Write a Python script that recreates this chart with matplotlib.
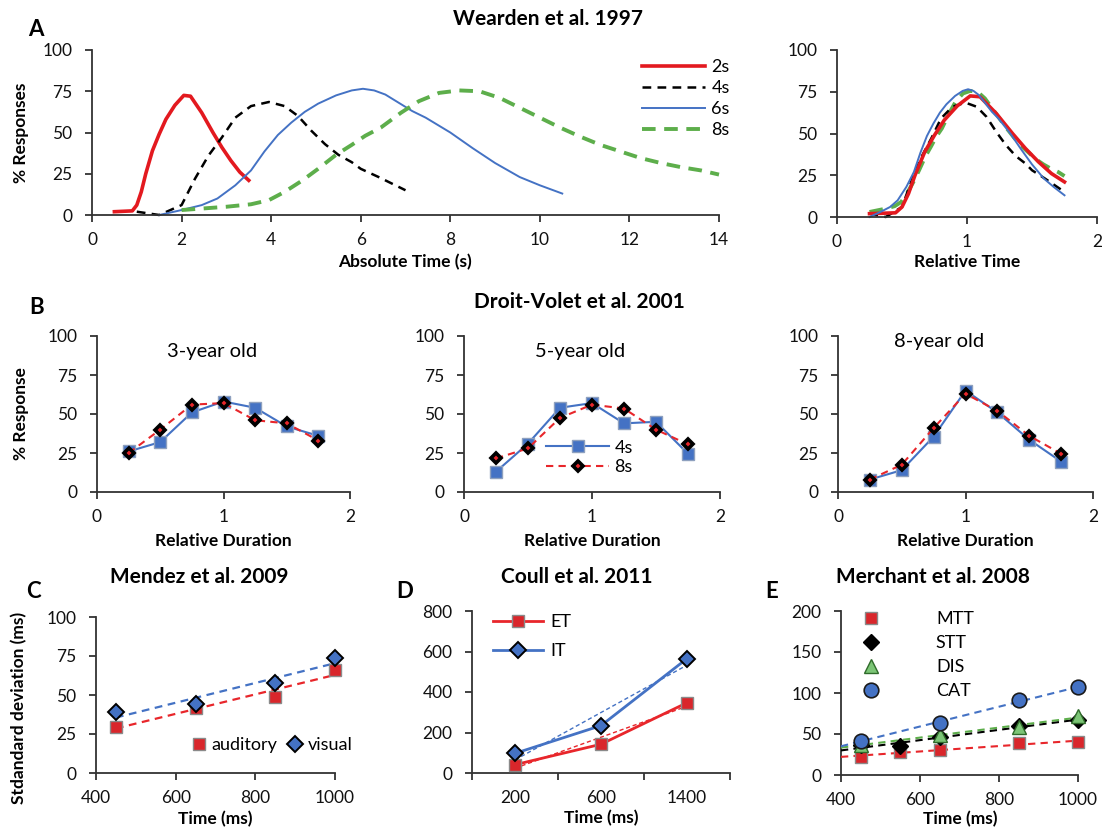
import matplotlib
matplotlib.use('Agg')
import matplotlib.pyplot as plt
import numpy as np

plt.rcParams['font.family'] = ['Lato', 'DejaVu Sans']

# ---------------- data ----------------
# Panel A: Wearden et al. 1997 (absolute time in s, % responses)
durations = [2, 4, 6, 8]
dur_labels = ['2s', '4s', '6s', '8s']
t_2s = [0.5, 0.9, 1.0, 1.1, 1.2, 1.35, 1.5, 1.65, 1.85, 2.05, 2.2, 2.45, 2.7, 2.9, 3.1, 3.3, 3.5]
y_2s = [2, 2.5, 6, 14, 25, 39, 49, 58, 66.5, 72.5, 72, 62, 50, 41, 33, 26, 21]
t_4s = [1.0, 1.5, 2.0, 2.3, 2.6, 2.9, 3.2, 3.55, 3.95, 4.3, 4.6, 4.9, 5.2, 5.5, 5.8, 6.0, 6.4, 7.0]
y_4s = [2, 0, 6, 22, 36, 47, 59, 66, 68.5, 66, 60, 51, 43, 36.5, 32, 28, 23, 15]
t_6s = [1.5, 2.0, 2.45, 2.8, 3.2, 3.55, 3.85, 4.15, 4.45, 4.75, 5.05, 5.45, 5.8, 6.05, 6.3,
        6.55, 6.85, 7.15, 7.45, 8.0, 8.5, 9.0, 9.55, 10.0, 10.5]
y_6s = [0, 3, 6, 10, 18, 27, 38.5, 48.5, 56, 62.5, 67.5, 72.5, 75.5, 76.5, 75.5,
        73, 68, 63, 59, 50, 40.5, 31.5, 23, 18, 13]
t_8s = [2.0, 2.5, 3.0, 3.55, 3.95, 4.3, 4.7, 5.05, 5.45, 5.8, 6.1, 6.45, 6.9, 7.3, 7.75, 8.2,
        8.65, 9.1, 9.55, 10.0, 10.45, 10.9, 11.35, 11.8, 12.25, 12.7, 13.15, 13.6, 14.0]
y_8s = [3, 4, 5, 6.5, 9, 14, 21, 28, 36.5, 42.5, 48, 53, 62, 69, 74, 75.5,
        75, 71, 65, 59, 53, 47.5, 42.5, 38.5, 34.5, 31.5, 29, 27, 24.5]

# Panel B: Droit-Volet et al. 2001
rel_dur = [0.25, 0.5, 0.75, 1.0, 1.25, 1.5, 1.75]
age_labels = ['3-year old', '5-year old', '8-year old']
b_4s = [[26, 32, 51, 58, 54, 42, 36],
        [13, 31, 54, 57, 44, 45, 24.5],
        [8, 14, 35.5, 65, 51, 33.5, 19.5]]
b_8s = [[25, 40, 56, 57, 46, 44, 33],
        [21.5, 28, 47.5, 56, 53.5, 40, 30.5],
        [8, 17.5, 41, 63, 52, 36, 24.5]]

# Panel C: Mendez et al. 2009
c_time = [450, 650, 850, 1000]
c_auditory = [29.5, 41.5, 49, 66]
c_visual = [39, 44, 58, 74]

# Panel D: Coull et al. 2011
d_cats = ['200', '600', '1400']
d_et = [41, 142, 347]
d_it = [97, 234, 565]

# Panel E: Merchant et al. 2008
e_time_mtt = [450, 550, 650, 850, 1000]
e_mtt = [22, 28, 31, 39, 40]
e_time_stt = [450, 550, 650, 850, 1000]
e_stt = [36, 35, 46, 60, 67]
e_time_dis = [450, 650, 850, 1000]
e_dis = [37, 49, 58, 72]
e_time_cat = [450, 650, 850, 1000]
e_cat = [42, 63, 91, 107]

# ---------------- styling ----------------
W, H = 1102, 832
fig = plt.figure(figsize=(W / 100, H / 100), dpi=100)

RED = '#E3191F'
BLUE = '#4472C4'
GREEN = '#5DAE4B'
SPINE = '#333333'
TICK_FS = 12.5
LAB_FS = 12.5


def add_ax(l, t, r, b):
    return fig.add_axes([l / W, 1 - b / H, (r - l) / W, (b - t) / H])


def style(ax):
    for s in ['top', 'right']:
        ax.spines[s].set_visible(False)
    for s in ['left', 'bottom']:
        ax.spines[s].set_color(SPINE)
        ax.spines[s].set_linewidth(1.3)
    ax.tick_params(which='both', direction='out', length=5, width=1.3, color=SPINE,
                   labelsize=TICK_FS, labelcolor='#111111')
    ax.tick_params(axis='x', pad=7)
    ax.tick_params(axis='y', pad=9)
    ax.patch.set_alpha(0)


def ftext(x, y, s, **kw):
    kw.setdefault('ha', 'center')
    kw.setdefault('va', 'center')
    fig.text(x / W, 1 - y / H, s, **kw)


# ---------------- Panel A ----------------
series_t = [t_2s, t_4s, t_6s, t_8s]
series_y = [y_2s, y_4s, y_6s, y_8s]
a_styles = [dict(color=RED, lw=2.6, ls='-'),
            dict(color='black', lw=1.8, ls=(0, (3.5, 2.5))),
            dict(color=BLUE, lw=1.4, ls='-'),
            dict(color=GREEN, lw=2.8, ls=(0, (3.5, 2.2)))]

axA = add_ax(92, 50, 719, 215)
style(axA)
for t, y, lab, st in zip(series_t, series_y, dur_labels, a_styles):
    axA.plot(t, y, label=lab, clip_on=False, **st)
axA.set_xlim(0, 14)
axA.set_ylim(0, 100)
axA.set_xticks(range(0, 15, 2))
axA.set_yticks([0, 25, 50, 75, 100])
axA.legend(loc='upper left', bbox_to_anchor=(0.877, 0.945), frameon=False,
           fontsize=13, handlelength=3.5, handletextpad=0.35, labelspacing=0.28,
           borderpad=0, borderaxespad=0)

axA2 = add_ax(837, 50, 1097, 217)
style(axA2)
draw_order = [3, 1, 0, 2]
for i in draw_order:
    rel = np.array(series_t[i]) / durations[i]
    axA2.plot(rel, series_y[i], clip_on=False, **a_styles[i])
axA2.set_xlim(0, 2)
axA2.set_ylim(0, 100)
axA2.set_xticks([0, 1, 2])
axA2.set_yticks([0, 25, 50, 75, 100])

ftext(36, 30, 'A', fontsize=16, fontweight='bold')
ftext(548, 19, 'Wearden et al. 1997', fontsize=15, fontweight='bold')
ftext(405, 262, 'Absolute Time (s)', fontsize=LAB_FS, fontweight='bold')
ftext(967, 262, 'Relative Time', fontsize=LAB_FS, fontweight='bold')
ftext(21, 133, '% Responses', fontsize=LAB_FS, fontweight='bold', rotation=90)

# ---------------- Panel B ----------------
b_boxes = [(97, 336, 350, 492), (464, 336, 720, 492), (838, 336, 1093, 492)]
age_pos = [(212, 351), (580, 351), (939, 342)]
for k in range(3):
    ax = add_ax(*b_boxes[k])
    style(ax)
    ax.plot(rel_dur, b_4s[k], color=BLUE, lw=1.5, marker='s', ms=8.5,
            mfc=BLUE, mec='#8EA0BE', mew=1.0, label='4s', clip_on=False, zorder=3)
    ax.plot(rel_dur, b_8s[k], color='#E8262B', lw=1.5, ls=(0, (3.5, 2.5)), marker='D', ms=5.5,
            mfc='#E8262B', mec='black', mew=2.6, label='8s', clip_on=False, zorder=4)
    ax.set_xlim(0, 2)
    ax.set_ylim(0, 100)
    ax.set_xticks([0, 1, 2])
    ax.set_yticks([0, 25, 50, 75, 100])
    ftext(age_pos[k][0], age_pos[k][1], age_labels[k], fontsize=14.5)
    ftext((b_boxes[k][0] + b_boxes[k][2]) / 2, 541, 'Relative Duration',
          fontsize=LAB_FS, fontweight='bold')
    if k == 1:
        ax.legend(loc='upper left', bbox_to_anchor=(0.32, 0.335), frameon=False,
                  fontsize=13, handlelength=3.5, handletextpad=0.3, labelspacing=0.2,
                  borderpad=0, borderaxespad=0)

ftext(37, 308, 'B', fontsize=16, fontweight='bold')
ftext(579, 302, 'Droit-Volet et al. 2001', fontsize=15, fontweight='bold')
ftext(21, 414, '% Response', fontsize=LAB_FS, fontweight='bold', rotation=90)

# ---------------- Panel C ----------------
axC = add_ax(96, 617, 335, 773)
style(axC)
axC.plot(c_time, c_auditory, ls='none', marker='s', ms=8, mfc='#D9262B', mec='#8a8a8a',
         mew=1.0, label='auditory', clip_on=False, zorder=4)
axC.plot(c_time, c_visual, ls='none', marker='D', ms=8, mfc=BLUE, mec='black',
         mew=1.4, label='visual', clip_on=False, zorder=4)
for yv, col in [(c_auditory, '#E8262B'), (c_visual, BLUE)]:
    p = np.polyfit(c_time, yv, 1)
    xs = np.array([c_time[0], c_time[-1]])
    axC.plot(xs, np.polyval(p, xs), color=col, lw=1.6, ls=(0, (3.5, 2.5)), zorder=3)
axC.set_xlim(400, 1000)
axC.set_ylim(0, 100)
axC.set_xticks([400, 600, 800, 1000])
axC.set_yticks([0, 25, 50, 75, 100])
axC.legend(loc='center left', bbox_to_anchor=(0.40, 0.18), frameon=False, ncol=2,
           fontsize=13, handlelength=0.8, handletextpad=0.3, columnspacing=0.6,
           borderpad=0, borderaxespad=0)
ftext(33, 592, 'C', fontsize=16, fontweight='bold')
ftext(199, 577, 'Mendez et al. 2009', fontsize=15, fontweight='bold')
ftext(215, 819, 'Time (ms)', fontsize=LAB_FS, fontweight='bold')
ftext(19, 708, 'Stdandard deviation (ms)', fontsize=LAB_FS, fontweight='bold', rotation=90)

# ---------------- Panel D ----------------
axD = add_ax(472, 611, 730, 773)
style(axD)
axD.plot(d_cats, d_et, color='#E8262B', lw=2.0, marker='s', ms=8, mfc='#D9262B',
         mec='#8a8a8a', mew=1.0, label='ET', clip_on=False, zorder=4)
axD.plot(d_cats, d_it, color=BLUE, lw=2.0, marker='D', ms=8.5, mfc=BLUE, mec='black',
         mew=1.4, label='IT', clip_on=False, zorder=4)
idx = np.arange(len(d_cats))
for yv, col in [(d_et, '#E8262B'), (d_it, BLUE)]:
    p = np.polyfit(idx, yv, 1)
    axD.plot(idx[[0, -1]], np.polyval(p, idx[[0, -1]]), color=col, lw=1.0,
             ls=(0, (3, 2)), zorder=3)
axD.set_xlim(-0.5, len(d_cats) - 0.5)
axD.set_ylim(0, 800)
axD.set_yticks([0, 200, 400, 600, 800])
axD.set_xticks(idx)
axD.set_xticklabels(d_cats)
axD.set_xticks(np.arange(len(d_cats) + 1) - 0.5, minor=True)
axD.tick_params(axis='x', which='major', length=0, pad=12)
axD.tick_params(axis='x', which='minor', length=5)
axD.legend(loc='upper left', bbox_to_anchor=(0.08, 0.98), frameon=False,
           fontsize=13, handlelength=2.8, handletextpad=0.4, labelspacing=0.7,
           borderpad=0, borderaxespad=0)
ftext(405, 592, 'D', fontsize=16, fontweight='bold')
ftext(577, 577, 'Coull et al. 2011', fontsize=15, fontweight='bold')
ftext(601, 818, 'Time (ms)', fontsize=LAB_FS, fontweight='bold')

# ---------------- Panel E ----------------
axE = add_ax(841, 611, 1078, 775)
style(axE)
e_series = [
    (e_time_mtt, e_mtt, 'MTT', dict(marker='s', ms=8, mfc='#D9262B', mec='#8a8a8a', mew=1.0), '#E8262B'),
    (e_time_stt, e_stt, 'STT', dict(marker='D', ms=8, mfc='black', mec='black', mew=1.0), 'black'),
    (e_time_dis, e_dis, 'DIS', dict(marker='^', ms=9.5, mfc='#7CC576', mec='#2f6b2a', mew=1.0), GREEN),
    (e_time_cat, e_cat, 'CAT', dict(marker='o', ms=10.5, mfc=BLUE, mec='#1a1a1a', mew=1.2), BLUE),
]
for xs, ys, lab, mk, col in e_series:
    axE.plot(xs, ys, ls='none', label=lab, clip_on=False, zorder=4, **mk)
    p = np.polyfit(xs, ys, 1)
    xl = np.array([400, 1000])
    axE.plot(xl, np.polyval(p, xl), color=col, lw=1.5, ls=(0, (3.5, 2.5)), zorder=3)
axE.set_xlim(400, 1000)
axE.set_ylim(0, 200)
axE.set_xticks([400, 600, 800, 1000])
axE.set_yticks([0, 50, 100, 150, 200])
axE.legend(loc='upper left', bbox_to_anchor=(0.05, 1.0), frameon=False,
           fontsize=13, handlelength=2.0, handletextpad=2.6, labelspacing=0.45,
           borderpad=0, borderaxespad=0)
ftext(772, 592, 'E', fontsize=16, fontweight='bold')
ftext(933, 577, 'Merchant et al. 2008', fontsize=15, fontweight='bold')
ftext(960, 819, 'Time (ms)', fontsize=LAB_FS, fontweight='bold')

fig.savefig('out.png', dpi=100)
